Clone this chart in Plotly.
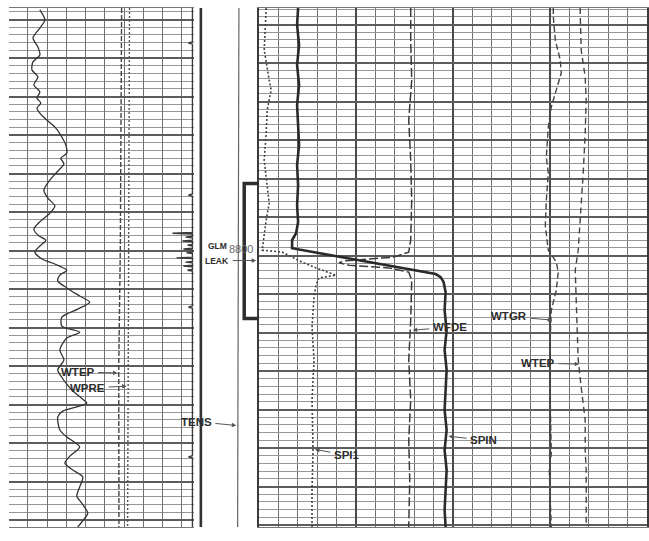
import plotly.graph_objects as go

# ---------------- data (depth in ft, track values in chart units) ----------------
# Track 1 (left): wiggly solid curve
T1_depth = [8737.5, 8740.1, 8742.2, 8744.8, 8747.1, 8749.2, 8751.0, 8753.1, 8754.9, 8757.0,
            8758.8, 8760.4, 8761.7, 8763.0, 8764.3, 8766.1, 8768.2, 8770.5, 8772.6, 8774.7,
            8776.0, 8777.5, 8779.4, 8781.7, 8784.3, 8786.4, 8788.4, 8790.3, 8792.3, 8794.4,
            8796.0, 8797.3, 8798.8, 8800.4, 8802.2, 8803.5, 8805.1, 8806.4, 8807.9, 8809.7,
            8811.8, 8813.4, 8815.2, 8817.3, 8819.6, 8821.2, 8822.7, 8825.8, 8828.4, 8831.0,
            8832.9, 8834.7, 8836.2, 8838.6, 8839.6, 8840.6, 8841.7, 8843.2, 8846.6, 8848.4,
            8851.0, 8853.4, 8855.2, 8857.0, 8858.8, 8861.4, 8863.8, 8865.6, 8868.2, 8870.5,
            8871.8]
T1_curve = [16.2, 18.8, 16.2, 12.6, 15.2, 16.2, 12.6, 12.1, 15.2, 13.1,
            16.2, 14.7, 16.7, 14.7, 16.2, 19.8, 24.5, 27.6, 29.7, 30.2,
            27.1, 28.7, 25.5, 21.4, 18.3, 20.4, 24.0, 21.4, 16.7, 13.1,
            15.2, 19.3, 16.2, 13.6, 17.3, 24.0, 30.2, 26.6, 25.5, 30.2,
            36.9, 42.1, 35.9, 27.6, 27.6, 36.9, 30.2, 26.6, 28.7, 25.5,
            27.6, 30.2, 32.8, 38.5, 40.6, 35.4, 28.1, 25.5, 26.6, 30.2,
            36.9, 31.8, 29.2, 33.3, 38.5, 36.9, 35.4, 38.0, 41.1, 38.0,
            35.9]

T1_flat_depth = [8737.0, 8770.0, 8800.0, 8830.0, 8871.8]
WTEP_L = [58.7, 58.5, 58.0, 57.2, 57.3]
WPRE_L = [62.8, 62.6, 62.3, 61.9, 61.8]

# Casing collar locator
CCL_depth = [8736.6, 8745.8, 8746.1, 8746.4, 8785.3, 8785.6, 8785.9, 8795.3, 8795.5, 8795.7,
             8796.3, 8796.5, 8796.7, 8797.3, 8797.5, 8797.7, 8798.4, 8798.6, 8798.8, 8799.4,
             8799.6, 8799.8, 8800.4, 8800.6, 8800.8, 8801.7, 8801.9, 8802.1, 8802.8, 8803.0,
             8803.2, 8803.8, 8804.0, 8804.2, 8804.9, 8805.1, 8805.3, 8814.4, 8814.7, 8815.0,
             8853.3, 8853.6, 8853.9, 8871.8]
CCL_val = [95.5, 95.5, 93.4, 95.5, 95.5, 93.4, 95.5, 95.5, 85.1, 95.5,
           95.5, 91.9, 95.5, 95.5, 90.3, 95.5, 95.5, 92.9, 95.5, 95.5,
           90.8, 95.5, 95.5, 92.4, 95.5, 95.5, 87.2, 95.5, 95.5, 91.9,
           95.5, 95.5, 90.8, 95.5, 95.5, 92.9, 95.5, 95.5, 93.4, 95.5,
           95.5, 93.4, 95.5, 95.5]

# Depth track
DT_depth = [8736.6, 8800.0, 8871.2]
EDGE_val = [0.108, 0.108, 0.108]
TENS_val = [0.69, 0.68, 0.67]
GLM_x = [1.0, 0.771, 0.771, 1.0]
GLM_depth = [8782.1, 8782.1, 8817.1, 8817.1]
DEPTH_LABEL = "8800"

# Track 2 (right)
SPIN_depth = [8735.7, 8740.1, 8745.3, 8750.5, 8755.7, 8760.9, 8766.1, 8771.3, 8776.5, 8781.7,
              8786.9, 8791.3, 8794.2, 8796.0, 8798.1, 8804.8, 8805.6, 8806.9, 8809.5, 8814.2,
              8819.4, 8824.5, 8829.7, 8834.9, 8840.1, 8845.3, 8850.5, 8855.7, 8860.9, 8866.1,
              8870.5]
SPIN = [10.03, 9.77, 10.28, 9.77, 10.28, 9.77, 10.03, 10.28, 9.77, 10.03,
        9.77, 10.03, 9.51, 8.48, 8.48, 45.50, 46.79, 47.56, 48.07, 47.81,
        48.33, 47.81, 48.33, 48.07, 47.81, 48.33, 47.81, 48.33, 48.07, 47.81,
        48.07]

WFDE_depth = [8735.7, 8744.0, 8754.4, 8764.8, 8775.2, 8785.6, 8796.0, 8799.1, 8800.4, 8801.4,
              8801.9, 8802.5, 8803.2, 8804.3, 8806.4, 8816.8, 8827.1, 8837.5, 8847.9, 8858.3,
              8870.5]
WFDE = [39.07, 39.07, 39.33, 38.56, 39.07, 39.33, 39.07, 38.56, 34.70, 21.85,
        20.57, 23.14, 33.42, 38.56, 39.33, 39.07, 38.56, 39.07, 38.56, 38.82,
        38.56]

SPI1_depth = [8735.7, 8746.6, 8754.4, 8757.0, 8762.2, 8768.2, 8775.2, 8782.5, 8786.4, 8790.8,
              8795.2, 8798.6, 8799.1, 8801.7, 8803.2, 8805.1, 8805.8, 8807.7, 8810.8, 8818.6,
              8827.1, 8837.5, 8850.5, 8860.9, 8870.5]
SPI1 = [1.80, 1.29, 2.57, 3.08, 2.06, 1.80, 1.29, 2.06, 2.57, 1.80,
        1.29, 0.77, 5.91, 11.05, 14.65, 19.79, 15.42, 14.65, 14.14, 13.62,
        14.14, 13.62, 13.88, 13.62, 13.62]

WTGR_depth = [8735.7, 8738.0, 8744.0, 8749.2, 8752.6, 8755.2, 8761.4, 8766.6, 8774.4, 8778.6,
              8785.6, 8792.3, 8798.6, 8801.7, 8804.3, 8809.0, 8814.2, 8821.2, 8838.3, 8851.3,
              8855.7, 8863.5, 8870.5]
WTGR = [75.84, 75.84, 76.35, 77.63, 77.89, 77.12, 75.32, 74.55, 74.04, 74.55,
        74.04, 73.78, 74.55, 76.61, 77.12, 76.61, 75.32, 75.06, 75.06, 75.32,
        74.81, 75.06, 75.32]

WTEP_R_depth = [8735.7, 8737.0, 8746.6, 8753.6, 8759.6, 8768.2, 8778.6, 8790.8, 8798.6, 8803.8,
                8812.3, 8827.1, 8834.2, 8842.7, 8850.5, 8855.7, 8870.5]
WTEP_R = [82.78, 82.78, 83.03, 84.06, 84.32, 84.06, 83.55, 82.78, 82.26, 81.49,
          81.75, 82.26, 83.03, 84.06, 84.06, 84.32, 84.32]

# curve labels: (text, axis suffix, value, depth, dx px, dy px)
LABELS = [
    ("WTEP", "", 57.1, 8831.8, -41, -1),
    ("WPRE", "", 61.8, 8835.2, -40, 2),
    ("TENS", "3", 0.665, 8844.9, -41, -4),
    ("WFDE", "2", 39.33, 8819.4, 38, -3),
    ("SPIN", "2", 48.59, 8846.9, 36, 4),
    ("SPI1", "2", 14.14, 8850.3, 33, 6),
    ("WTGR", "2", 75.84, 8816.8, -44, -4),
    ("WTEP", "2", 82.78, 8828.2, -42, -1),
]

# ---------------- figure ----------------
INK = "#333333"
fig = go.Figure()

def add(x, y, ax, width=1.5, dash="solid", color=INK, shape="linear"):
    fig.add_trace(go.Scatter(x=x, y=y, xaxis="x" + ax, yaxis="y" + ax, mode="lines",
                             line=dict(color=color, width=width, dash=dash, shape=shape,
                                       smoothing=0.7 if shape == "spline" else None),
                             hoverinfo="skip"))

# track 1
add(T1_curve, T1_depth, "", width=1.3, shape="spline")
add(WTEP_L, T1_flat_depth, "", width=1.4, dash="5px,2px", color="#444")
add(WPRE_L, T1_flat_depth, "", width=1.4, dash="2px,2px", color="#555")
add(CCL_val, CCL_depth, "", width=1.4, color="#3a3a3a")
# depth track
add(EDGE_val, DT_depth, "3", width=2.6, color="#333")
add(TENS_val, DT_depth, "3", width=1.2, color="#666")
add(GLM_x, GLM_depth, "3", width=3.5, color="#2e2e2e")
# track 2
add(SPIN, SPIN_depth, "2", width=2.6, color="#2a2a2a")
add(WFDE, WFDE_depth, "2", width=1.5, dash="9px,3px", color="#3a3a3a")
add(SPI1, SPI1_depth, "2", width=1.6, dash="2px,2px", color="#444")
add(WTGR, WTGR_depth, "2", width=1.4, dash="6px,3px", color="#444")
add(WTEP_R, WTEP_R_depth, "2", width=1.4, dash="6px,4px", color="#444")

TOP, BOT = 1 - 8 / 541, 1 - 527 / 541
hgrid = dict(showgrid=True, dtick=10, tick0=8800, gridcolor="#5c5c5c", gridwidth=1.6,
             minor=dict(dtick=2, tick0=8800, showgrid=True, gridcolor="#969696", gridwidth=1.3),
             showticklabels=False, ticks="", zeroline=False, autorange=False)

fig.update_layout(
    width=649, height=541, autosize=False,
    margin=dict(l=0, r=0, t=0, b=0, pad=0),
    paper_bgcolor="white", plot_bgcolor="white", showlegend=False,
    xaxis=dict(domain=[8.7 / 649, 194.4 / 649], range=[0, 96.2], anchor="y",
               showgrid=True, dtick=10, tick0=0, gridcolor="#707070", gridwidth=1.3,
               showticklabels=False, ticks="", zeroline=False,
               showline=True, mirror=True, linecolor="#777", linewidth=1.3),
    yaxis=dict(domain=[BOT, TOP], range=[8871.8, 8737.0], anchor="x", **hgrid),
    xaxis2=dict(domain=[260 / 649, 1.0], range=[0, 100], anchor="y2",
                showgrid=True, dtick=25, tick0=0, gridcolor="#4a4a4a", gridwidth=2.2,
                minor=dict(dtick=5, tick0=0, showgrid=True, gridcolor="#707070", gridwidth=1.3),
                showticklabels=False, ticks="", zeroline=False,
                showline=True, mirror=True, linecolor="#777", linewidth=1.3),
    yaxis2=dict(domain=[BOT, TOP], range=[8870.5, 8735.7], anchor="x2",
                showline=True, mirror=True, linecolor="#3a3a3a", linewidth=2.2, **hgrid),
    xaxis3=dict(domain=[194.4 / 649, 260 / 649], range=[0, 1], anchor="y3", visible=False),
    yaxis3=dict(domain=[BOT, TOP], range=[8871.2, 8736.6], anchor="x3", visible=False),
)

LABEL_FONT = dict(family="Liberation Sans, Arial, sans-serif", size=11.5, color="#2e2e2e",
                  weight="bold")
for text, ax, xv, dv, dx, dy in LABELS:
    fig.add_annotation(x=xv, y=dv, xref="x" + ax, yref="y" + ax, text=text,
                       showarrow=True, ax=dx, ay=dy, arrowhead=2, arrowsize=0.9,
                       arrowwidth=1, arrowcolor="#555", standoff=1, startstandoff=2,
                       font=LABEL_FONT, bgcolor="rgba(0,0,0,0)")

small = dict(family="Liberation Sans, Arial, sans-serif", size=8.5, color="#2e2e2e", weight="bold")
fig.add_annotation(x=0.36, y=8798.2, xref="x3", yref="y3", text="GLM", showarrow=False, font=small)
fig.add_annotation(x=0.954, y=8802.1, xref="x3", yref="y3", text="LEAK", showarrow=True,
                   ax=-39, ay=0, arrowhead=2, arrowsize=0.9, arrowwidth=1, arrowcolor="#555",
                   standoff=0, startstandoff=2, font=small)
fig.add_annotation(x=0.718, y=8799.2, xref="x3", yref="y3", text=DEPTH_LABEL, showarrow=False,
                   font=dict(family="Liberation Sans, Arial, sans-serif", size=11, color="#6a6a6a"))

fig.write_html("out.html")
